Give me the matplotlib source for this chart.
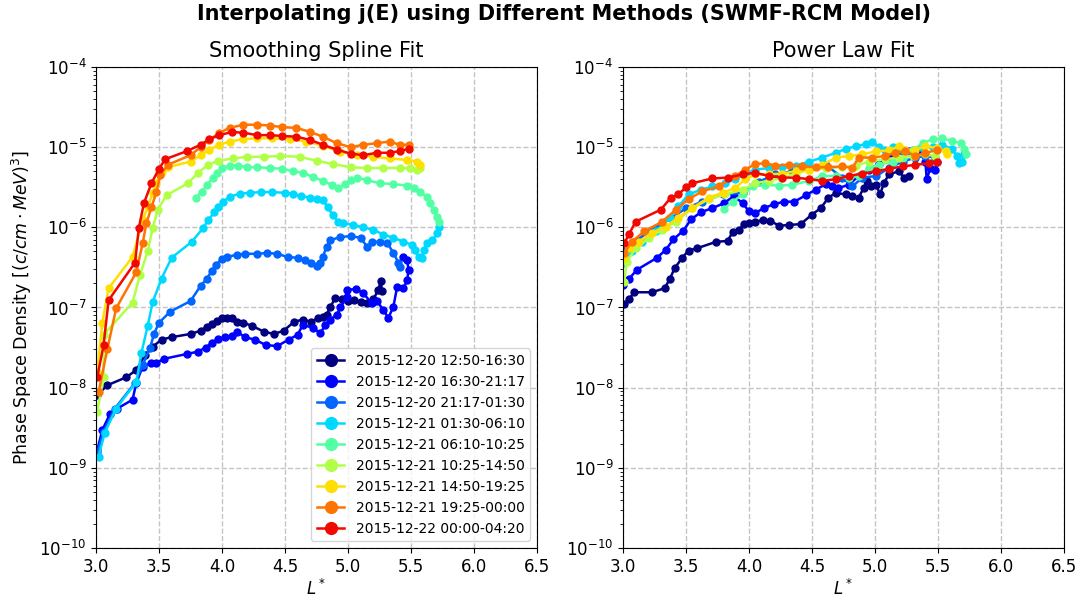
import numpy as np
import matplotlib
matplotlib.use("Agg")
import matplotlib.pyplot as plt

# Time windows (legend labels)
windows = [
    "2015-12-20 12:50-16:30",
    "2015-12-20 16:30-21:17",
    "2015-12-20 21:17-01:30",
    "2015-12-21 01:30-06:10",
    "2015-12-21 06:10-10:25",
    "2015-12-21 10:25-14:50",
    "2015-12-21 14:50-19:25",
    "2015-12-21 19:25-00:00",
    "2015-12-22 00:00-04:20",
]

# ---- Smoothing spline fit: L* and log10(PSD) ----
sp_L1 = [3.01, 3.09, 3.24, 3.32, 3.39, 3.45, 3.52, 3.60, 3.75, 3.83, 3.88, 3.92, 3.96, 4.00, 4.04,
         4.08, 4.12, 4.17, 4.24, 4.33, 4.41, 4.49, 4.57, 4.64, 4.71, 4.76, 4.80, 4.83, 4.86, 4.90,
         4.95, 5.00, 5.05, 5.10, 5.15, 5.20, 5.24, 5.26, 5.27]
sp_P1 = [-8.09, -7.97, -7.87, -7.78, -7.59, -7.49, -7.40, -7.37, -7.33, -7.29, -7.24, -7.20, -7.17, -7.13, -7.13,
         -7.13, -7.18, -7.19, -7.23, -7.30, -7.33, -7.29, -7.18, -7.15, -7.18, -7.13, -7.12, -7.09, -6.99, -6.88,
         -6.90, -6.92, -6.91, -6.93, -6.95, -6.90, -6.78, -6.67, -6.80]

sp_L2 = [3.01, 3.05, 3.11, 3.17, 3.29, 3.32, 3.37, 3.44, 3.48, 3.54, 3.72, 3.81, 3.87, 3.92, 3.97,
         4.02, 4.08, 4.12, 4.18, 4.26, 4.35, 4.44, 4.53, 4.60, 4.64, 4.72, 4.78, 4.82, 4.86, 4.91,
         4.94, 4.99, 4.99, 5.06, 5.12, 5.19, 5.23, 5.28, 5.32, 5.36, 5.39, 5.44, 5.47, 5.48, 5.47, 5.44]
sp_P2 = [-8.78, -8.53, -8.33, -8.26, -8.15, -7.94, -7.74, -7.69, -7.69, -7.64, -7.58, -7.55, -7.50, -7.44, -7.39,
         -7.37, -7.35, -7.30, -7.37, -7.40, -7.47, -7.48, -7.40, -7.34, -7.22, -7.25, -7.32, -7.22, -7.15, -7.09,
         -7.00, -6.87, -6.78, -6.77, -6.82, -6.95, -6.92, -7.03, -7.13, -6.99, -6.74, -6.76, -6.66, -6.53, -6.41, -6.37]

sp_L3 = [3.01, 3.06, 3.15, 3.31, 3.37, 3.43, 3.46, 3.50, 3.59, 3.75, 3.83, 3.88, 3.92, 3.95, 4.00,
         4.04, 4.12, 4.18, 4.28, 4.36, 4.44, 4.52, 4.60, 4.66, 4.71, 4.75, 4.78, 4.80, 4.83, 4.86,
         4.94, 5.02, 5.10, 5.15, 5.19, 5.25, 5.31, 5.36, 5.40, 5.41]
sp_P3 = [-8.81, -8.55, -8.26, -7.94, -7.72, -7.50, -7.33, -7.19, -7.05, -6.92, -6.73, -6.64, -6.54, -6.47, -6.39,
         -6.37, -6.34, -6.33, -6.33, -6.32, -6.33, -6.37, -6.38, -6.41, -6.44, -6.48, -6.44, -6.37, -6.24, -6.16,
         -6.12, -6.11, -6.13, -6.24, -6.18, -6.18, -6.19, -6.32, -6.44, -6.49]

sp_L4 = [3.02, 3.07, 3.16, 3.32, 3.36, 3.41, 3.45, 3.52, 3.60, 3.76, 3.85, 3.89, 3.94, 3.97, 4.01,
         4.06, 4.14, 4.22, 4.31, 4.40, 4.50, 4.56, 4.63, 4.70, 4.75, 4.80, 4.84, 4.88, 4.92, 4.96,
         5.04, 5.12, 5.20, 5.28, 5.36, 5.44, 5.51, 5.53, 5.56, 5.59, 5.60, 5.63, 5.67, 5.71, 5.72]
sp_P4 = [-8.86, -8.56, -8.26, -7.93, -7.57, -7.23, -6.93, -6.64, -6.38, -6.18, -6.01, -5.91, -5.81, -5.75, -5.68,
         -5.62, -5.58, -5.57, -5.56, -5.56, -5.57, -5.58, -5.61, -5.63, -5.65, -5.66, -5.75, -5.85, -5.93, -5.95,
         -5.97, -6.00, -6.03, -6.09, -6.13, -6.18, -6.22, -6.28, -6.37, -6.38, -6.28, -6.19, -6.16, -6.07, -6.00]

sp_L5 = [3.79, 3.84, 3.88, 3.93, 3.96, 4.00, 4.06, 4.13, 4.20, 4.28, 4.38, 4.48, 4.56, 4.64, 4.72,
         4.80, 4.87, 4.92, 4.98, 5.02, 5.07, 5.15, 5.25, 5.36, 5.47, 5.52, 5.57, 5.63, 5.65, 5.68, 5.71, 5.72]
sp_P5 = [-5.63, -5.56, -5.47, -5.38, -5.32, -5.26, -5.23, -5.23, -5.25, -5.25, -5.26, -5.27, -5.30, -5.32, -5.37,
         -5.42, -5.47, -5.51, -5.46, -5.41, -5.38, -5.41, -5.45, -5.46, -5.48, -5.51, -5.56, -5.62, -5.70, -5.78, -5.87, -5.93]

sp_L6 = [3.01, 3.06, 3.06, 3.29, 3.35, 3.41, 3.45, 3.49, 3.56, 3.73, 3.81, 3.89, 3.97, 4.09, 4.20,
         4.33, 4.46, 4.62, 4.75, 4.88, 5.02, 5.15, 5.28, 5.41, 5.49, 5.55, 5.57]
sp_P6 = [-8.30, -7.87, -7.34, -6.94, -6.59, -6.30, -6.01, -5.78, -5.60, -5.45, -5.32, -5.22, -5.17, -5.14, -5.12,
         -5.12, -5.11, -5.12, -5.17, -5.21, -5.25, -5.26, -5.26, -5.26, -5.26, -5.28, -5.26]

sp_L7 = [3.01, 3.05, 3.10, 3.29, 3.37, 3.41, 3.45, 3.48, 3.52, 3.57, 3.75, 3.83, 3.90, 3.98, 4.06,
         4.17, 4.28, 4.40, 4.54, 4.67, 4.80, 4.94, 5.07, 5.20, 5.33, 5.47, 5.55, 5.57]
sp_P7 = [-7.80, -7.19, -6.76, -6.37, -5.91, -5.75, -5.57, -5.45, -5.31, -5.25, -5.18, -5.10, -5.03, -4.97, -4.93,
         -4.90, -4.89, -4.89, -4.90, -4.93, -4.98, -5.06, -5.10, -5.12, -5.14, -5.16, -5.18, -5.22]

sp_L8 = [3.02, 3.09, 3.16, 3.32, 3.37, 3.40, 3.44, 3.48, 3.51, 3.57, 3.75, 3.83, 3.90, 3.98, 4.06,
         4.17, 4.28, 4.38, 4.48, 4.59, 4.70, 4.80, 4.91, 5.02, 5.12, 5.23, 5.33, 5.41, 5.48]
sp_P8 = [-8.06, -7.52, -7.01, -6.56, -6.20, -5.95, -5.75, -5.56, -5.35, -5.22, -5.10, -5.00, -4.91, -4.82, -4.76,
         -4.72, -4.72, -4.73, -4.75, -4.76, -4.81, -4.87, -4.95, -5.00, -4.97, -4.95, -4.93, -4.97, -4.97]

sp_L9 = [3.01, 3.06, 3.10, 3.31, 3.34, 3.38, 3.44, 3.50, 3.55, 3.72, 3.83, 3.90, 3.98, 4.08, 4.17,
         4.28, 4.38, 4.48, 4.59, 4.70, 4.80, 4.91, 5.02, 5.12, 5.23, 5.33, 5.41, 5.48]
sp_P9 = [-7.87, -7.47, -6.91, -6.44, -6.01, -5.70, -5.45, -5.27, -5.15, -5.05, -4.97, -4.90, -4.85, -4.81, -4.82,
         -4.85, -4.85, -4.86, -4.87, -4.91, -4.97, -5.03, -5.08, -5.10, -5.07, -5.07, -5.05, -5.02]

# ---- Power law fit: L* and log10(PSD) ----
pl_L1 = [3.01, 3.05, 3.09, 3.23, 3.33, 3.37, 3.41, 3.47, 3.52, 3.59, 3.74, 3.83, 3.87, 3.92, 3.96,
         4.00, 4.05, 4.11, 4.17, 4.24, 4.32, 4.41, 4.50, 4.57, 4.63, 4.69, 4.77, 4.82, 4.87, 4.91,
         4.94, 4.97, 5.01, 5.04, 5.07, 5.11, 5.19, 5.23, 5.27]
pl_P1 = [-6.96, -6.89, -6.81, -6.81, -6.76, -6.65, -6.51, -6.38, -6.29, -6.26, -6.18, -6.17, -6.06, -6.03, -5.96,
         -5.95, -5.93, -5.91, -5.92, -5.98, -5.97, -5.96, -5.84, -5.76, -5.63, -5.57, -5.59, -5.61, -5.63, -5.51,
         -5.42, -5.49, -5.47, -5.59, -5.45, -5.34, -5.30, -5.38, -5.36]

pl_L2 = [3.00, 3.05, 3.11, 3.27, 3.34, 3.40, 3.48, 3.54, 3.62, 3.71, 3.80, 3.88, 3.95, 4.00, 4.05,
         4.12, 4.20, 4.28, 4.36, 4.45, 4.53, 4.61, 4.66, 4.71, 4.79, 4.87, 4.95, 5.03, 5.11, 5.19,
         5.27, 5.35, 5.40, 5.41, 5.44, 5.48, 5.49]
pl_P2 = [-6.72, -6.64, -6.53, -6.38, -6.28, -6.15, -6.04, -5.90, -5.81, -5.76, -5.70, -5.61, -5.70, -5.80, -5.82,
         -5.76, -5.71, -5.68, -5.68, -5.60, -5.53, -5.46, -5.49, -5.51, -5.47, -5.36, -5.28, -5.21, -5.11, -5.07,
         -5.05, -5.04, -5.18, -5.40, -5.26, -5.28, -5.18]

pl_L3 = [3.01, 3.09, 3.23, 3.39, 3.50, 3.63, 3.79, 3.95, 4.08, 4.21, 4.34, 4.48, 4.61, 4.74, 4.82,
         4.90, 5.01, 5.11, 5.22, 5.32, 5.40, 5.48]
pl_P3 = [-6.30, -6.18, -6.03, -5.88, -5.76, -5.68, -5.59, -5.57, -5.43, -5.34, -5.30, -5.26, -5.22, -5.38, -5.49,
         -5.38, -5.36, -5.26, -5.18, -5.13, -5.11, -5.13]

pl_L4 = [3.01, 3.07, 3.15, 3.26, 3.37, 3.44, 3.52, 3.62, 3.71, 3.81, 3.89, 3.97, 4.05, 4.16, 4.26,
         4.37, 4.48, 4.58, 4.69, 4.77, 4.85, 4.93, 4.98, 5.03, 5.08, 5.14, 5.22, 5.30, 5.38, 5.46,
         5.53, 5.61, 5.65, 5.67, 5.69, 5.71]
pl_P4 = [-6.45, -6.30, -6.18, -6.05, -5.88, -5.74, -5.59, -5.53, -5.49, -5.45, -5.40, -5.34, -5.28, -5.26, -5.25,
         -5.23, -5.18, -5.13, -5.07, -5.02, -4.99, -4.96, -4.93, -5.00, -5.03, -5.00, -5.04, -5.03, -5.01, -5.00,
         -4.97, -5.02, -5.11, -5.20, -5.18, -5.09]

pl_L5 = [3.80, 3.87, 3.95, 4.03, 4.13, 4.24, 4.34, 4.48, 4.58, 4.69, 4.79, 4.87, 4.95, 5.03, 5.14,
         5.22, 5.30, 5.38, 5.46, 5.53, 5.61, 5.68, 5.71, 5.72]
pl_P5 = [-5.77, -5.68, -5.59, -5.49, -5.47, -5.48, -5.47, -5.42, -5.36, -5.36, -5.39, -5.36, -5.26, -5.22, -5.18,
         -5.13, -5.03, -4.95, -4.90, -4.89, -4.92, -4.95, -5.02, -5.09]

pl_L6 = [3.01, 3.03, 3.10, 3.21, 3.31, 3.42, 3.55, 3.68, 3.81, 3.95, 4.05, 4.16, 4.26, 4.37, 4.48,
         4.61, 4.74, 4.85, 4.95, 5.08, 5.19, 5.30, 5.40, 5.48]
pl_P6 = [-6.68, -6.43, -6.26, -6.13, -6.03, -5.93, -5.76, -5.65, -5.59, -5.53, -5.45, -5.42, -5.38, -5.33, -5.28,
         -5.26, -5.25, -5.23, -5.18, -5.15, -5.13, -5.11, -5.09, -5.11]

pl_L7 = [3.01, 3.05, 3.13, 3.23, 3.34, 3.44, 3.55, 3.68, 3.79, 3.89, 3.97, 4.05, 4.16, 4.26, 4.37,
         4.48, 4.58, 4.69, 4.79, 4.90, 5.01, 5.11, 5.19, 5.24, 5.32, 5.40, 5.49, 5.56, 5.57]
pl_P7 = [-6.38, -6.26, -6.18, -6.07, -5.99, -5.88, -5.76, -5.63, -5.57, -5.51, -5.40, -5.34, -5.34, -5.33, -5.30,
         -5.28, -5.22, -5.13, -5.11, -5.09, -5.05, -5.04, -4.99, -5.04, -5.03, -4.99, -5.01, -5.05, -5.09]

pl_L8 = [3.01, 3.07, 3.17, 3.31, 3.42, 3.52, 3.63, 3.76, 3.89, 3.97, 4.05, 4.13, 4.21, 4.32, 4.42,
         4.53, 4.63, 4.74, 4.82, 4.87, 4.98, 5.08, 5.16, 5.24, 5.32, 5.40, 5.49]
pl_P8 = [-6.32, -6.18, -6.05, -5.93, -5.78, -5.65, -5.55, -5.49, -5.36, -5.28, -5.21, -5.20, -5.23, -5.22, -5.24,
         -5.25, -5.25, -5.24, -5.26, -5.13, -5.13, -5.11, -5.07, -5.05, -5.11, -5.07, -5.04]

pl_L9 = [3.01, 3.05, 3.10, 3.30, 3.38, 3.44, 3.50, 3.55, 3.71, 3.83, 3.95, 4.05, 4.16, 4.26, 4.37,
         4.48, 4.58, 4.69, 4.79, 4.90, 5.01, 5.11, 5.22, 5.32, 5.43, 5.49]
pl_P9 = [-6.20, -6.08, -5.93, -5.78, -5.63, -5.59, -5.50, -5.45, -5.39, -5.38, -5.34, -5.32, -5.36, -5.38, -5.38,
         -5.40, -5.42, -5.40, -5.36, -5.33, -5.30, -5.27, -5.24, -5.22, -5.20, -5.18]

spline_L = [sp_L1, sp_L2, sp_L3, sp_L4, sp_L5, sp_L6, sp_L7, sp_L8, sp_L9]
spline_P = [sp_P1, sp_P2, sp_P3, sp_P4, sp_P5, sp_P6, sp_P7, sp_P8, sp_P9]
power_L = [pl_L1, pl_L2, pl_L3, pl_L4, pl_L5, pl_L6, pl_L7, pl_L8, pl_L9]
power_P = [pl_P1, pl_P2, pl_P3, pl_P4, pl_P5, pl_P6, pl_P7, pl_P8, pl_P9]

colors = plt.cm.jet(np.linspace(0, 0.9, len(windows)))

fig = plt.figure(figsize=(10.81, 6.03), dpi=100)
ax1 = fig.add_axes([0.0888, 0.0912, 0.408, 0.7977])
ax2 = fig.add_axes([0.5763, 0.0912, 0.408, 0.7977])

for ax, Ls, Ps, title in [(ax1, spline_L, spline_P, "Smoothing Spline Fit"),
                          (ax2, power_L, power_P, "Power Law Fit")]:
    for i, lab in enumerate(windows):
        ax.plot(Ls[i], 10.0 ** np.asarray(Ps[i]), "-o", color=colors[i],
                lw=1.8, ms=5, label=lab)
    ax.set_yscale("log")
    ax.set_xlim(3.0, 6.5)
    ax.set_ylim(1e-10, 1e-4)
    ax.set_xticks(np.arange(3.0, 6.51, 0.5))
    ax.grid(True, which="major", linestyle="--", color="#c4c4c4", lw=1.0)
    ax.set_xlabel(r"$L^*$", fontsize=12, labelpad=2)
    ax.set_title(title, fontsize=15, pad=7)
    ax.tick_params(labelsize=12)

ax1.set_ylabel(r"Phase Space Density $[(c/cm \cdot MeV)^3]$", fontsize=12.5)
ax1.legend(loc="lower right", fontsize=10, markerscale=1.7, handlelength=2.0,
           labelspacing=0.5, borderpad=0.4)

fig.suptitle("Interpolating j(E) using Different Methods (SWMF-RCM Model)",
             fontsize=15, fontweight="bold", x=0.522, y=0.993)

fig.savefig("out.png", dpi=100)
